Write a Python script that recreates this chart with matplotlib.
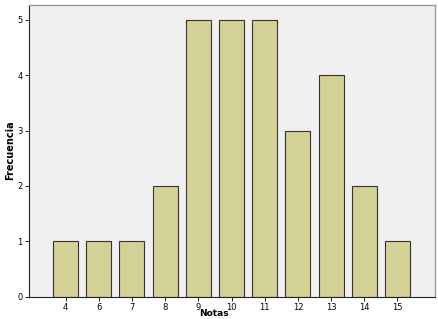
import matplotlib
matplotlib.use("Agg")
import matplotlib.pyplot as plt

notas = ["4", "6", "7", "8", "9", "10", "11", "12", "13", "14", "15"]
frecuencia = [1, 1, 1, 2, 5, 5, 5, 3, 4, 2, 1]

fig = plt.figure(figsize=(4.38, 3.19), dpi=100)
ax = fig.add_axes([29 / 438, 1 - 296.5 / 319, (435 - 29) / 438, (296.5 - 5) / 319])
ax.set_facecolor("#f0f0f0")

x = list(range(len(notas)))
ax.bar(x, frecuencia, width=0.75, color="#d4d196", edgecolor="#333333", linewidth=0.8)

ax.set_xlim(-1.1, 11.13)
ax.set_ylim(0, 5.27)
ax.set_xticks(x)
ax.set_xticklabels(notas)
ax.set_yticks(range(6))
ax.tick_params(labelsize=6, length=3, width=0.6, pad=1.5)

for s in ["left", "bottom"]:
    ax.spines[s].set_color("#222222")
    ax.spines[s].set_linewidth(0.8)
for s in ["top", "right"]:
    ax.spines[s].set_color("#999999")
    ax.spines[s].set_linewidth(1.0)

# labels placed by hand so they stay inside the small canvas
fig.text(214 / 438, 0.5 / 319, "Notas", fontsize=6.5, fontweight="bold",
         ha="center", va="bottom")
fig.text(10 / 438, 1 - 150 / 319, "Frecuencia", fontsize=7, fontweight="bold",
         ha="center", va="center", rotation=90)

fig.savefig("out.png", dpi=100)
